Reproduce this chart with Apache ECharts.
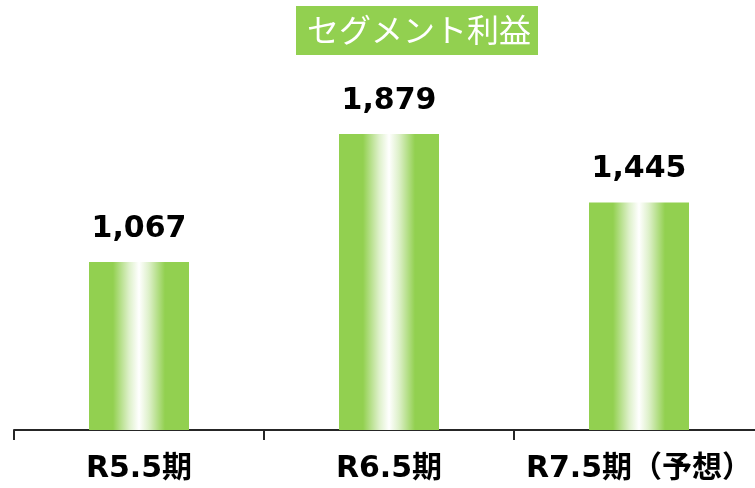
<!DOCTYPE html>
<html>
<head>
<meta charset="utf-8">
<script src="https://cdn.jsdelivr.net/npm/echarts@6/dist/echarts.min.js"></script>
<style>
  html, body { margin: 0; padding: 0; background: #fff; overflow: hidden; }
  /* a little wider than the window: the last category runs off the right edge */
  #chart { width: 764px; height: 488px; }
</style>
</head>
<body>
<div id="chart"></div>
<script>
const categories = ['R5.5期', 'R6.5期', 'R7.5期（予想）'];
const profits = [1067, 1879, 1445];

const chart = echarts.init(document.querySelector('#chart'));

// bar fill: green edges, white streak down the middle
const barFill = new echarts.graphic.LinearGradient(0, 0, 1, 0, [
    { offset: 0, color: '#92D050' },
    { offset: 0.24, color: '#92D050' },
    { offset: 0.4, color: '#DDF0C9' },
    { offset: 0.5, color: '#FFFFFF' },
    { offset: 0.6, color: '#DDF0C9' },
    { offset: 0.76, color: '#92D050' },
    { offset: 1, color: '#92D050' }
]);

const boldFont = 'DejaVu Sans, Noto Sans CJK JP, sans-serif';

chart.setOption({
    animation: false,
    title: {
        text: 'セグメント利益',
        left: 296,
        top: 6,
        backgroundColor: '#92D050',
        padding: [8, 7, 9, 11],
        textStyle: {
            color: '#fff',
            fontSize: 32,
            fontWeight: 'normal',
            fontFamily: 'Noto Sans CJK JP'
        }
    },
    grid: {
        left: 14,
        right: 0,
        top: 115,
        bottom: 58
    },
    xAxis: {
        type: 'category',
        data: categories,
        axisLine: { lineStyle: { color: '#262626', width: 2 } },
        axisTick: { show: true, interval: 0, length: 10, lineStyle: { color: '#262626', width: 2 } },
        axisLabel: {
            interval: 0,
            margin: 24,
            color: '#000',
            fontSize: 30,
            fontWeight: 'bold',
            fontFamily: boldFont
        }
    },
    yAxis: {
        type: 'value',
        min: 0,
        max: 2000,
        show: false
    },
    series: [
        {
            type: 'bar',
            data: profits,
            barWidth: '40%',
            itemStyle: { color: barFill },
            label: {
                show: true,
                position: 'top',
                distance: 18,
                color: '#000',
                fontSize: 30,
                fontWeight: 'bold',
                fontFamily: boldFont,
                formatter: (p) => p.value.toLocaleString('en-US')
            }
        }
    ]
});
</script>
</body>
</html>
